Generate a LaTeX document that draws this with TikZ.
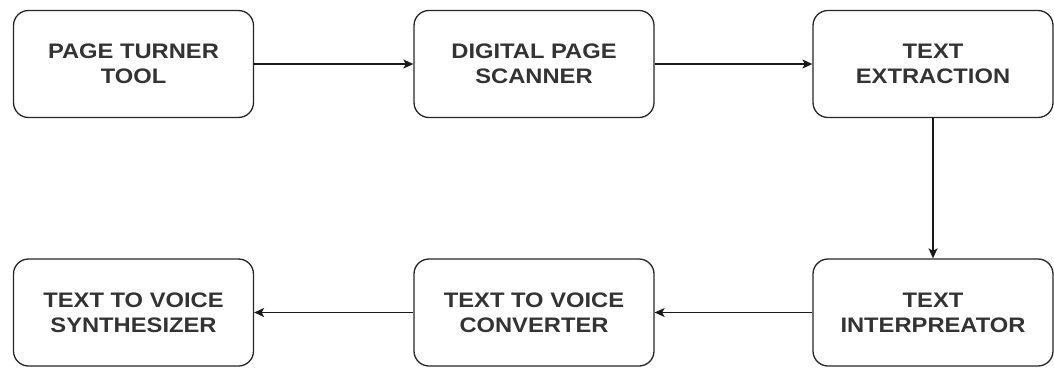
\documentclass[tikz,border=0pt]{standalone}
\usepackage{fontspec}
\setmainfont{Liberation Sans}
\newfontfamily\boxfont[FakeStretch=1.13]{Liberation Sans}
\usetikzlibrary{arrows.meta}
\begin{document}
\begin{tikzpicture}[x=1pt,y=-1pt,
  procbox/.style={draw=black!85, line width=1.3pt, rounded corners=15pt, minimum width=240pt, minimum height=107pt, align=center, font=\boxfont\fontsize{21}{25}\selectfont\bfseries, text=black!80, inner sep=0pt},
  conn/.style={line width=1.3pt, draw=black!90, -{Stealth[length=10pt,width=9pt,inset=2.5pt]}}]
\useasboundingbox (0,0) rectangle (1054,367);
\node[procbox] (a) at (133.5,64) {PAGE TURNER\\TOOL};
\node[procbox] (b) at (534,64) {DIGITAL PAGE\\SCANNER};
\node[procbox] (c) at (933,64) {TEXT\\EXTRACTION};
\node[procbox] (f) at (133.5,312.5) {TEXT TO VOICE\\SYNTHESIZER};
\node[procbox] (e) at (534,312.5) {TEXT TO VOICE\\CONVERTER};
\node[procbox] (d) at (933,312.5) {TEXT\\INTERPREATOR};
\draw[conn] (a) -- (b);
\draw[conn] (b) -- (c);
\draw[conn] (c) -- (d);
\draw[conn] (d) -- (e);
\draw[conn] (e) -- (f);
\end{tikzpicture}
\end{document}
